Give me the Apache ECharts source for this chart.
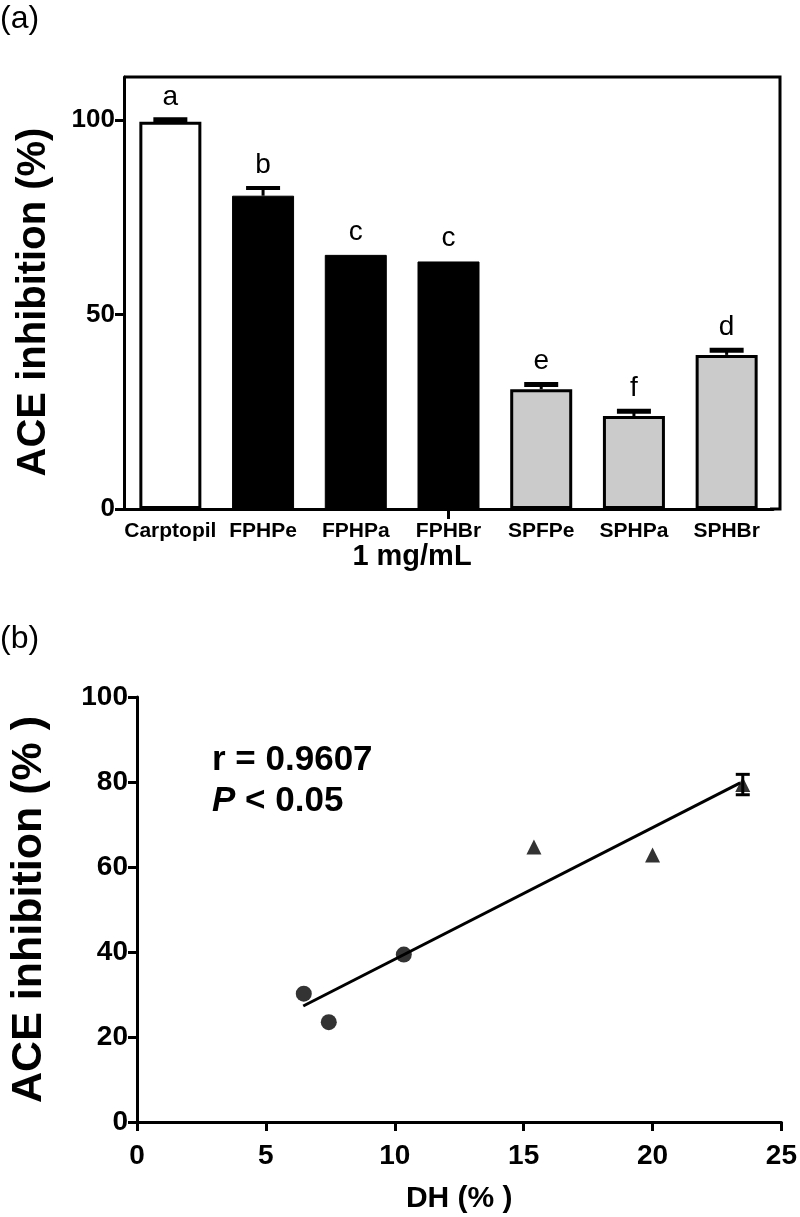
<!DOCTYPE html>
<html>
<head>
<meta charset="utf-8">
<script src="https://cdn.jsdelivr.net/npm/echarts@6/dist/echarts.min.js"></script>
<style>
html,body{margin:0;padding:0;background:#fff;}
#chart{width:800px;height:1217px;}
</style>
</head>
<body>
<div id="chart"></div>
<script>
// ---- Panel (a) data ----
var categories = ['Carptopil', 'FPHPe', 'FPHPa', 'FPHBr', 'SPFPe', 'SPHPa', 'SPHBr'];
var inhibition = [99.5, 80.5, 65.3, 63.6, 30.8, 23.9, 39.6];
var inhibitionErr = [0.5, 2.0, 0, 0, 1.2, 1.2, 1.2];
var letters = ['a', 'b', 'c', 'c', 'e', 'f', 'd'];
var barGroup = ['control', 'fph', 'fph', 'fph', 'sp', 'sp', 'sp'];
var yTicksA = [0, 50, 100];

// ---- Panel (b) data ----
var circleDH = [6.47, 7.44, 10.35];
var circleACE = [30.2, 23.5, 39.4];
var triangleDH = [15.4, 20.0, 23.5];
var triangleACE = [64.7, 62.8, 79.4];
var triangleErr = [0, 0, 2.4];
var fitDH = [6.45, 23.4];
var fitACE = [27.3, 79.8];

var FONT = '"Liberation Sans", Arial, sans-serif';
var groupStyle = {
  control: {color: '#ffffff', borderColor: '#000', borderWidth: 3},
  fph: {color: '#000000', borderColor: '#000', borderWidth: 1},
  sp: {color: '#cbcbcb', borderColor: '#000', borderWidth: 3}
};

var chart = echarts.init(document.getElementById('chart'), null, {renderer: 'canvas'});

var barData = inhibition.map(function (v, i) {
  return {value: v, itemStyle: groupStyle[barGroup[i]]};
});
var errDataA = inhibition.map(function (v, i) { return [i, v, inhibitionErr[i]]; });

var circles = circleDH.map(function (x, i) { return [x, circleACE[i]]; });
var triangles = triangleDH.map(function (x, i) { return [x, triangleACE[i]]; });
var errDataB = triangleDH.map(function (x, i) { return [x, triangleACE[i], triangleErr[i]]; })
  .filter(function (d) { return d[2] > 0; });
var fitLine = fitDH.map(function (x, i) { return [x, fitACE[i]]; });

var axisLineStyle = {color: '#000', width: 3};

var option = {
  animation: false,
  backgroundColor: '#fff',
  grid: [
    {left: 124, top: 77, width: 649, height: 432},
    {left: 137, top: 697, width: 645, height: 425}
  ],
  xAxis: [
    {
      type: 'category', gridIndex: 0, data: categories,
      axisLine: {lineStyle: axisLineStyle},
      axisTick: {show: true, alignWithLabel: true, length: 10,
        interval: function (idx) { return idx === 3; },
        lineStyle: {color: '#000', width: 3}},
      axisLabel: {color: '#000', fontFamily: FONT, fontWeight: 'bold', fontSize: 21, margin: 12, interval: 0}
    },
    {
      type: 'value', gridIndex: 1, min: 0, max: 25, interval: 5,
      axisLine: {lineStyle: axisLineStyle},
      axisTick: {show: true, length: 9, lineStyle: {color: '#000', width: 3}},
      axisLabel: {color: '#000', fontFamily: FONT, fontWeight: 'bold', fontSize: 28, margin: 20},
      splitLine: {show: false},
      name: 'DH (% )', nameLocation: 'middle', nameGap: 62,
      nameTextStyle: {color: '#000', fontFamily: FONT, fontWeight: 'bold', fontSize: 30}
    }
  ],
  yAxis: [
    {
      type: 'value', gridIndex: 0, min: 0, max: 111,
      axisLine: {show: true, lineStyle: axisLineStyle},
      axisTick: {show: true, length: 9, customValues: yTicksA, lineStyle: {color: '#000', width: 3}},
      axisLabel: {color: '#000', fontFamily: FONT, fontWeight: 'bold', fontSize: 26, margin: 9, customValues: yTicksA},
      splitLine: {show: false},
      name: 'ACE inhibition (%)', nameLocation: 'middle', nameGap: 70,
      nameTextStyle: {color: '#000', fontFamily: FONT, fontWeight: 'bold', fontSize: 40, padding: [0, 18, 0, 0]}
    },
    {
      type: 'value', gridIndex: 1, min: 0, max: 100, interval: 20,
      axisLine: {show: true, lineStyle: axisLineStyle},
      axisTick: {show: true, length: 9, lineStyle: {color: '#000', width: 3}},
      axisLabel: {color: '#000', fontFamily: FONT, fontWeight: 'bold', fontSize: 28, margin: 9},
      splitLine: {show: false},
      name: 'ACE inhibition (% )', nameLocation: 'middle', nameGap: 86,
      nameTextStyle: {color: '#000', fontFamily: FONT, fontWeight: 'bold', fontSize: 43}
    }
  ],
  series: [
    {
      type: 'bar', xAxisIndex: 0, yAxisIndex: 0, barWidth: 62,
      data: barData, z: 2
    },
    {
      type: 'custom', xAxisIndex: 0, yAxisIndex: 0, z: 5,
      data: errDataA,
      renderItem: function (params, api) {
        var i = api.value(0), v = api.value(1), e = api.value(2);
        var p0 = api.coord([i, v]);
        var p1 = api.coord([i, v + e]);
        var half = 17;
        var children = [];
        if (e > 0) {
          children.push({type: 'line', shape: {x1: p0[0], y1: p0[1], x2: p1[0], y2: p1[1]}, style: {stroke: '#000', lineWidth: 3}});
          children.push({type: 'line', shape: {x1: p1[0] - half, y1: p1[1], x2: p1[0] + half, y2: p1[1]},
            style: {stroke: '#000', lineWidth: e < 1.5 ? 5 : 4}});
        }
        children.push({type: 'text', style: {text: letters[params.dataIndex], x: p1[0], y: p1[1] - 9,
          textAlign: 'center', textVerticalAlign: 'bottom', fill: '#000',
          font: 'normal 28px ' + FONT}});
        return {type: 'group', children: children};
      }
    },
    {
      type: 'line', xAxisIndex: 1, yAxisIndex: 1, data: fitLine,
      symbol: 'none', lineStyle: {color: '#000', width: 3}, z: 3
    },
    {
      type: 'scatter', xAxisIndex: 1, yAxisIndex: 1, data: circles,
      symbol: 'circle', symbolSize: 16, itemStyle: {color: '#000'}, z: 4
    },
    {
      type: 'scatter', xAxisIndex: 1, yAxisIndex: 1, data: triangles,
      symbol: 'triangle', symbolSize: 15, itemStyle: {color: '#000'}, z: 4
    },
    {
      type: 'custom', xAxisIndex: 1, yAxisIndex: 1, z: 5,
      data: errDataB,
      renderItem: function (params, api) {
        var x = api.value(0), v = api.value(1), e = api.value(2);
        var pt = api.coord([x, v + e]);
        var pb = api.coord([x, v - e]);
        var half = 7;
        return {
          type: 'group',
          children: [
            {type: 'line', shape: {x1: pt[0], y1: pt[1], x2: pb[0], y2: pb[1]}, style: {stroke: '#000', lineWidth: 3}},
            {type: 'line', shape: {x1: pt[0] - half, y1: pt[1], x2: pt[0] + half, y2: pt[1]}, style: {stroke: '#000', lineWidth: 3}},
            {type: 'line', shape: {x1: pb[0] - half, y1: pb[1], x2: pb[0] + half, y2: pb[1]}, style: {stroke: '#000', lineWidth: 3}}
          ]
        };
      }
    }
  ],
  graphic: [
    {type: 'polyline', shape: {points: [[124, 77], [780, 77], [780, 509], [770, 509]]},
      style: {stroke: '#000', lineWidth: 3, fill: null}, z: 10},
    {type: 'text', left: 0, top: 3, style: {text: '(a)', font: 'normal 32px ' + FONT, fill: '#000'}},
    {type: 'text', left: 0, top: 623, style: {text: '(b)', font: 'normal 32px ' + FONT, fill: '#000'}},
    {type: 'text', x: 412, y: 557, style: {text: '1 mg/mL', font: 'bold 29px ' + FONT, fill: '#000',
      textAlign: 'center', textVerticalAlign: 'middle'}},
    {type: 'text', x: 212, y: 760, style: {text: 'r = 0.9607', font: 'bold 35px ' + FONT, fill: '#000',
      textAlign: 'left', textVerticalAlign: 'middle'}},
    {type: 'text', x: 212, y: 801, style: {
      text: '{i|P}{n|\u00a0< 0.05}',
      textAlign: 'left', textVerticalAlign: 'middle', fill: '#000',
      rich: {
        i: {font: 'italic bold 35px ' + FONT, fill: '#000'},
        n: {font: 'bold 35px ' + FONT, fill: '#000'}
      }
    }}
  ]
};
chart.setOption(option);
</script>
</body>
</html>
